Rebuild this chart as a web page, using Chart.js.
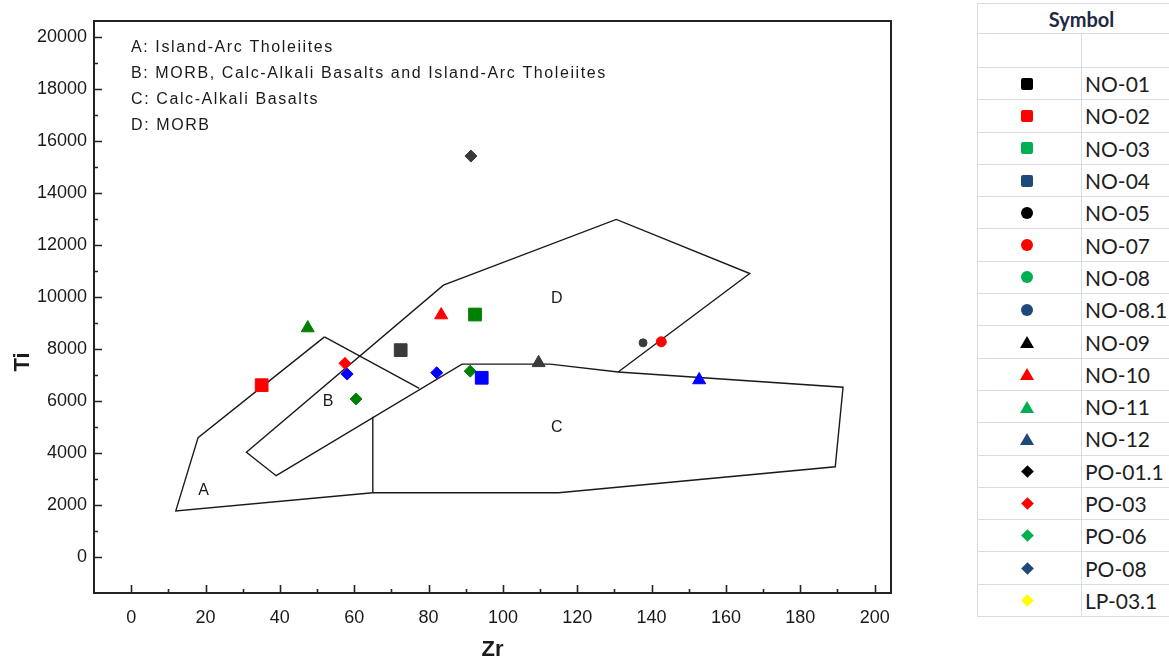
<!DOCTYPE html>
<html>
<head>
<meta charset="utf-8">
<title>Ti - Zr</title>
<script src="https://cdn.jsdelivr.net/npm/chart.js@4.4.1/dist/chart.umd.min.js"></script>
<style>
  html, body { margin: 0; padding: 0; background: #fff; }
  body { width: 1169px; height: 663px; position: relative; overflow: hidden; }
  #wrap { position: absolute; left: 0; top: 0; width: 970px; height: 663px; }
  #legend { position: absolute; left: 977px; top: 3px; border-collapse: collapse; table-layout: fixed; width: 209px;
            font-family: Lato, "Open Sans", sans-serif; color: #1e1e1e; }
  #legend td { border: 1px solid #d5dce8; padding: 0; }
  #legend tr.head td { height: 29px; text-align: center; font-weight: bold; font-size: 20px; color: #1f2a44; }
  #legend tr.blank td { height: 33px; }
  #legend tr.row td { height: 31.3px; }
  #legend td.sym { width: 103px; text-align: center; line-height: 0; padding-right: 5px; }
  #legend td.name { font-size: 21px; padding-left: 3px; }
  .square, .circle, .triangle, .diamond { display: inline-block; vertical-align: middle; }
  .square { width: 12px; height: 12px; border-radius: 2px; background: var(--c); }
  .circle { width: 12px; height: 12px; border-radius: 50%; background: var(--c); }
  .triangle { width: 0; height: 0; border-left: 7px solid transparent; border-right: 7px solid transparent; border-bottom: 12px solid var(--c); }
  .diamond { width: 9px; height: 9px; background: var(--c); transform: rotate(45deg); }
</style>
</head>
<body>
<div id="wrap"><canvas id="grafica"></canvas></div>
<table id="legend"></table>

<script>
// muestras (Zr, Ti en ppm)
const samples  = ['NO-01', 'NO-02', 'NO-03', 'NO-04', 'NO-05', 'NO-07', 'NO-09', 'NO-10', 'NO-11', 'NO-12',
                  'PO-01.1', 'PO-03', 'PO-06', 'PO-06', 'PO-08', 'PO-08'];
const zrValues = [72.5, 35.1, 92.5, 94.3, 137.7, 142.6, 109.6, 83.4, 47.5, 152.8,
                  91.4, 57.5, 60.5, 91.2, 58.1, 82.2];
const tiValues = [7950, 6600, 9320, 6885, 8230, 8270, 7460, 9300, 8800, 6800,
                  15420, 7440, 6070, 7140, 7030, 7080];

// limites de campos (Pearce & Cann)
const outlineZr = [52, 18, 12, 65, 115, 189.4, 191.5, 131, 112.7, 89, 39, 31, 84, 130.5, 166.4, 131];
const outlineTi = [8460, 4580, 1760, 2460, 2460, 3460, 6520, 7110, 7410, 7410, 3115, 4015, 10450, 12980, 10900, 7110];
const arcEdgeZr = [52, 77.5];
const arcEdgeTi = [8460, 6480];
const dividerZr = [65, 65];
const dividerTi = [5385, 2460];

const fieldLetters = ['A', 'B', 'C', 'D'];
const fieldZr = [19.5, 53, 114.5, 114.5];
const fieldTi = [2560, 5950, 4950, 9950];

const keyLines = [
  'A: Island-Arc Tholeiites',
  'B: MORB, Calc-Alkali Basalts and Island-Arc Tholeiites',
  'C: Calc-Alkali Basalts',
  'D: MORB'
];

const xTicks = [0, 20, 40, 60, 80, 100, 120, 140, 160, 180, 200];
const yTicks = [0, 2000, 4000, 6000, 8000, 10000, 12000, 14000, 16000, 18000, 20000];

// tabla de simbolos
const legendNames  = ['NO-01', 'NO-02', 'NO-03', 'NO-04', 'NO-05', 'NO-07', 'NO-08', 'NO-08.1', 'NO-09',
                      'NO-10', 'NO-11', 'NO-12', 'PO-01.1', 'PO-03', 'PO-06', 'PO-08', 'LP-03.1'];
const legendShapes = ['square', 'square', 'square', 'square', 'circle', 'circle', 'circle', 'circle', 'triangle',
                      'triangle', 'triangle', 'triangle', 'diamond', 'diamond', 'diamond', 'diamond', 'diamond'];
const legendColors = ['#000000', '#ff0000', '#00b050', '#1f497d', '#000000', '#ff0000', '#00b050', '#1f497d', '#000000',
                      '#ff0000', '#00b050', '#1f497d', '#000000', '#ff0000', '#00b050', '#1f497d', '#ffff00'];

// estilo de los marcadores en la grafica
const markerStyle = {
  'NO-01': ['rect', '#3a3a3a', 9], 'NO-02': ['rect', '#ff0000', 9], 'NO-03': ['rect', '#008000', 9], 'NO-04': ['rect', '#0000ff', 9],
  'NO-05': ['circle', '#3a3a3a', 4], 'NO-07': ['circle', '#ff0000', 5],
  'NO-09': ['triangle', '#3a3a3a', 7.5], 'NO-10': ['triangle', '#ff0000', 7.5], 'NO-11': ['triangle', '#008000', 7.5], 'NO-12': ['triangle', '#0000ff', 7.5],
  'PO-01.1': ['rectRot', '#3a3a3a', 6], 'PO-03': ['rectRot', '#ff0000', 6], 'PO-06': ['rectRot', '#008000', 6], 'PO-08': ['rectRot', '#0000ff', 6]
};

// --- tabla HTML ---
let html = '<tr class="head"><td colspan="2">Symbol</td></tr><tr class="blank"><td class="sym"></td><td></td></tr>';
legendNames.forEach((name, i) => {
  html += `<tr class="row"><td class="sym"><span class="${legendShapes[i]}" style="--c:${legendColors[i]}"></span></td>` +
          `<td class="name">${name}</td></tr>`;
});
document.getElementById('legend').innerHTML = html;

// --- datasets ---
const datasets = [];
[...new Set(samples)].forEach(name => {
  const pts = [];
  samples.forEach((s, i) => { if (s === name) pts.push({ x: zrValues[i], y: tiValues[i] }); });
  const [shape, color, r] = markerStyle[name];
  datasets.push({
    label: name, data: pts, pointStyle: shape, pointRadius: r,
    backgroundColor: color, borderColor: color, borderWidth: 1, order: 1
  });
});

function lineSet(xs, ys) {
  return {
    data: xs.map((v, i) => ({ x: v, y: ys[i] })), showLine: true, pointRadius: 0,
    borderColor: '#1a1a1a', borderWidth: 1.4, fill: false, order: 2
  };
}
datasets.push(lineSet(outlineZr, outlineTi), lineSet(arcEdgeZr, arcEdgeTi), lineSet(dividerZr, dividerTi));

// marco, marcas de eje y textos
const overlay = {
  id: 'overlay',
  afterDraw(chart) {
    const { ctx, chartArea: a, scales: { x, y } } = chart;
    ctx.save();
    ctx.strokeStyle = '#222';
    ctx.lineWidth = 1.6;
    ctx.beginPath();
    xTicks.forEach(v => { const p = Math.round(x.getPixelForValue(v)) + 0.5; ctx.moveTo(p, a.bottom); ctx.lineTo(p, a.bottom - 8); });
    xTicks.slice(1).forEach(v => { const p = Math.round(x.getPixelForValue(v - 10)) + 0.5; ctx.moveTo(p, a.bottom); ctx.lineTo(p, a.bottom - 4); });
    yTicks.forEach(v => { const p = Math.round(y.getPixelForValue(v)) + 0.5; ctx.moveTo(a.left, p); ctx.lineTo(a.left + 8, p); });
    yTicks.slice(1).forEach(v => { const p = Math.round(y.getPixelForValue(v - 1000)) + 0.5; ctx.moveTo(a.left, p); ctx.lineTo(a.left + 4, p); });
    ctx.stroke();

    ctx.lineWidth = 2;
    ctx.strokeRect(a.left, a.top, a.right - a.left, a.bottom - a.top);

    ctx.fillStyle = '#1a1a1a';
    ctx.font = '16px "Liberation Sans", Arial, sans-serif';
    ctx.textAlign = 'center';
    ctx.textBaseline = 'middle';
    fieldLetters.forEach((t, i) => ctx.fillText(t, x.getPixelForValue(fieldZr[i]), y.getPixelForValue(fieldTi[i])));

    ctx.textAlign = 'left';
    ctx.letterSpacing = '1.6px';
    keyLines.forEach((t, i) => ctx.fillText(t, a.left + 37, a.top + 27 + i * 26));
    ctx.letterSpacing = '0px';

    // titulo del eje Y
    ctx.font = 'bold 22px "Liberation Sans", Arial, sans-serif';
    ctx.translate(23, 362);
    ctx.rotate(-Math.PI / 2);
    ctx.textAlign = 'center';
    ctx.fillText('Ti', 0, 0);
    ctx.restore();
  }
};

const tickFont = { size: 18, family: '"Liberation Sans", Arial, sans-serif' };

new Chart(document.getElementById('grafica'), {
  type: 'scatter',
  data: { datasets },
  options: {
    responsive: true,
    maintainAspectRatio: false,
    animation: false,
    layout: { padding: { left: 0, top: 21, right: 79, bottom: 0 } },
    plugins: { legend: { display: false }, tooltip: { enabled: false } },
    scales: {
      x: {
        type: 'linear', min: -10, max: 204.4,
        grid: { display: false, drawTicks: false },
        border: { display: false },
        afterBuildTicks: s => { s.ticks = xTicks.map(v => ({ value: v })); },
        afterFit: s => { s.height = 70; },
        ticks: { font: tickFont, color: '#1a1a1a', padding: 14, maxRotation: 0, callback: v => String(v) },
        title: { display: true, text: 'Zr', color: '#1a1a1a', padding: { top: 0, bottom: 0 },
                 font: { size: 22, weight: 'bold', family: '"Liberation Sans", Arial, sans-serif' } }
      },
      y: {
        type: 'linear', min: -1400, max: 20620,
        grid: { display: false, drawTicks: false },
        border: { display: false },
        afterBuildTicks: s => { s.ticks = yTicks.map(v => ({ value: v })); },
        afterFit: s => { s.width = 94; },
        ticks: { font: tickFont, color: '#1a1a1a', padding: 7, callback: v => String(v) }
      }
    }
  },
  plugins: [overlay]
});
</script>
</body>
</html>
